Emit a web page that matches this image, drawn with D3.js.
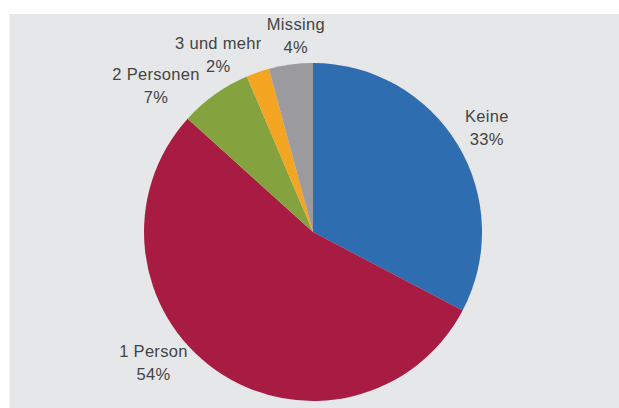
<!DOCTYPE html>
<html>
<head>
<meta charset="utf-8">
<script src="https://cdn.jsdelivr.net/npm/d3@7"></script>
<style>
  html, body { margin: 0; padding: 0; background: #fff; }
  svg { display: block; }
</style>
</head>
<body>
<div id="chart"></div>
<script>
/* Data */
var categories = ["Keine", "1 Person", "2 Personen", "3 und mehr", "Missing"];
var values = [32.7, 54.0, 6.9, 2.2, 4.2];
var valueLabels = ["33%", "54%", "7%", "2%", "4%"];
var colors = ["#2d6db0", "#a81c44", "#84a33f", "#f4a623", "#9b9b9f"];

// label placement (angle in degrees from top, distance as share of radius)
var labelAngles = [59.0, 230.7, 313.0, 331.9, 355.0];
var labelDist = [1.20, 1.22, 1.27, 1.19, 1.165];

var width = 619, height = 408;
var cx = 313, cy = 232, radius = 169;

var svg = d3.select("#chart").append("svg")
    .attr("width", width)
    .attr("height", height);

// gray panel
svg.append("rect")
    .attr("x", 9.5)
    .attr("y", 14)
    .attr("width", width - 9.5)
    .attr("height", height - 14)
    .attr("fill", "#e6e7e9");

var pie = d3.pie().sort(null).value(function (d) { return d; });
var arc = d3.arc().innerRadius(0).outerRadius(radius);

var g = svg.append("g").attr("transform", "translate(" + cx + "," + cy + ")");

g.selectAll("path")
    .data(pie(values))
    .enter().append("path")
    .attr("d", arc)
    .attr("fill", function (d, i) { return colors[i]; });

// labels
var labels = g.selectAll("g.lbl")
    .data(categories)
    .enter().append("g")
    .attr("class", "lbl")
    .attr("transform", function (d, i) {
        var a = labelAngles[i] * Math.PI / 180;
        var r = labelDist[i] * radius;
        return "translate(" + (Math.sin(a) * r) + "," + (-Math.cos(a) * r) + ")";
    });

function styleText(sel) {
    sel.attr("text-anchor", "middle")
        .style("font-family", "'Liberation Sans', Arial, sans-serif")
        .style("font-size", "16.5px")
        .style("letter-spacing", "0.3px")
        .style("fill", "#444");
}

labels.append("text")
    .attr("y", -5.5)
    .call(styleText)
    .text(function (d) { return d; });

labels.append("text")
    .attr("y", 17.5)
    .call(styleText)
    .text(function (d, i) { return valueLabels[i]; });
</script>
</body>
</html>
